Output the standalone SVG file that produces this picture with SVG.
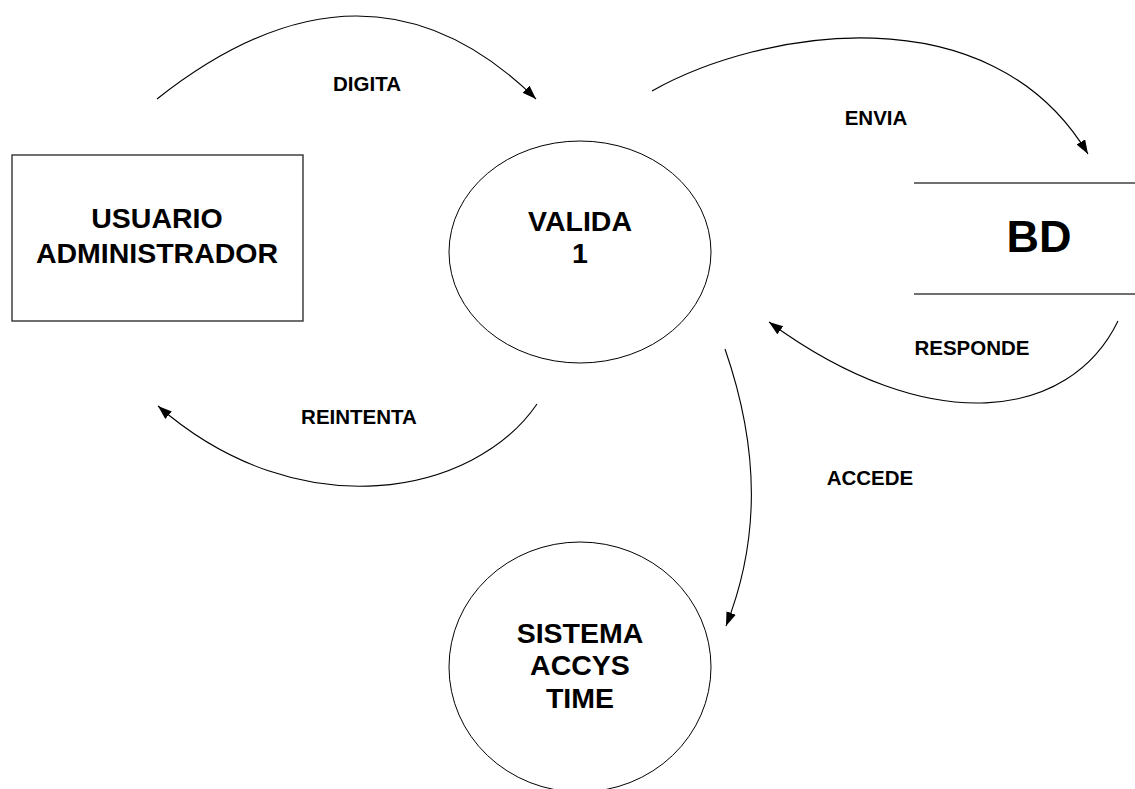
<svg xmlns="http://www.w3.org/2000/svg" width="1135" height="789" viewBox="0 0 1135 789">
<style>
.big{font-family:"Liberation Sans",Arial,sans-serif;font-weight:bold;font-size:28.5px;fill:#000;text-anchor:middle}
.lbl{font-family:"Liberation Sans",Arial,sans-serif;font-weight:bold;font-size:20.5px;fill:#000;text-anchor:middle}
.bd{font-family:"Liberation Sans",Arial,sans-serif;font-weight:bold;font-size:45px;fill:#000;text-anchor:middle}
.proc{fill:#fff;stroke:#000;stroke-width:1}
.ent{fill:#fff;stroke:#333;stroke-width:1.4}
.store{stroke:#707070;stroke-width:2}
.flow{fill:none;stroke:#000;stroke-width:1.1;marker-end:url(#ah)}
</style>
<defs>
<marker id="ah" markerUnits="userSpaceOnUse" markerWidth="15" markerHeight="11" refX="14" refY="5" orient="auto">
<path d="M0,0 L14,5 L0,10 z" fill="#000"/>
</marker>
</defs>
<rect width="1135" height="789" fill="#fff"/>
<g id="usuario">
<rect class="ent" x="12" y="155" width="291" height="166"/>
<text class="big" x="157" y="228">USUARIO</text>
<text class="big" x="157" y="263">ADMINISTRADOR</text>
</g>
<g id="valida">
<ellipse class="proc" cx="580" cy="252" rx="131" ry="111"/>
<text class="big" x="580" y="231">VALIDA</text>
<text class="big" x="580" y="263">1</text>
</g>
<g id="bd">
<line class="store" x1="914" y1="183" x2="1135" y2="183"/>
<line class="store" x1="914" y1="294" x2="1135" y2="294"/>
<text class="bd" x="1039" y="252">BD</text>
</g>
<g id="sistema">
<ellipse class="proc" cx="580" cy="667" rx="131" ry="125"/>
<text class="big" x="580" y="643">SISTEMA</text>
<text class="big" x="580" y="675">ACCYS</text>
<text class="big" x="580" y="708">TIME</text>
</g>
<g id="connectors">
<path class="flow" d="M157,99 Q367,-67 536,99"/>
<path class="flow" d="M652,91 C760,30 990,-10 1088,154"/>
<path class="flow" d="M1118,321 C1070,420 930,440 769,322"/>
<path class="flow" d="M537,404 C475,495 300,530 158,406"/>
<path class="flow" d="M725,349 C760,450 760,540 726,626"/>
<text class="lbl" x="367" y="91">DIGITA</text>
<text class="lbl" x="876" y="125">ENVIA</text>
<text class="lbl" x="972" y="355">RESPONDE</text>
<text class="lbl" x="359" y="424">REINTENTA</text>
<text class="lbl" x="870" y="485">ACCEDE</text>
</g>
</svg>
